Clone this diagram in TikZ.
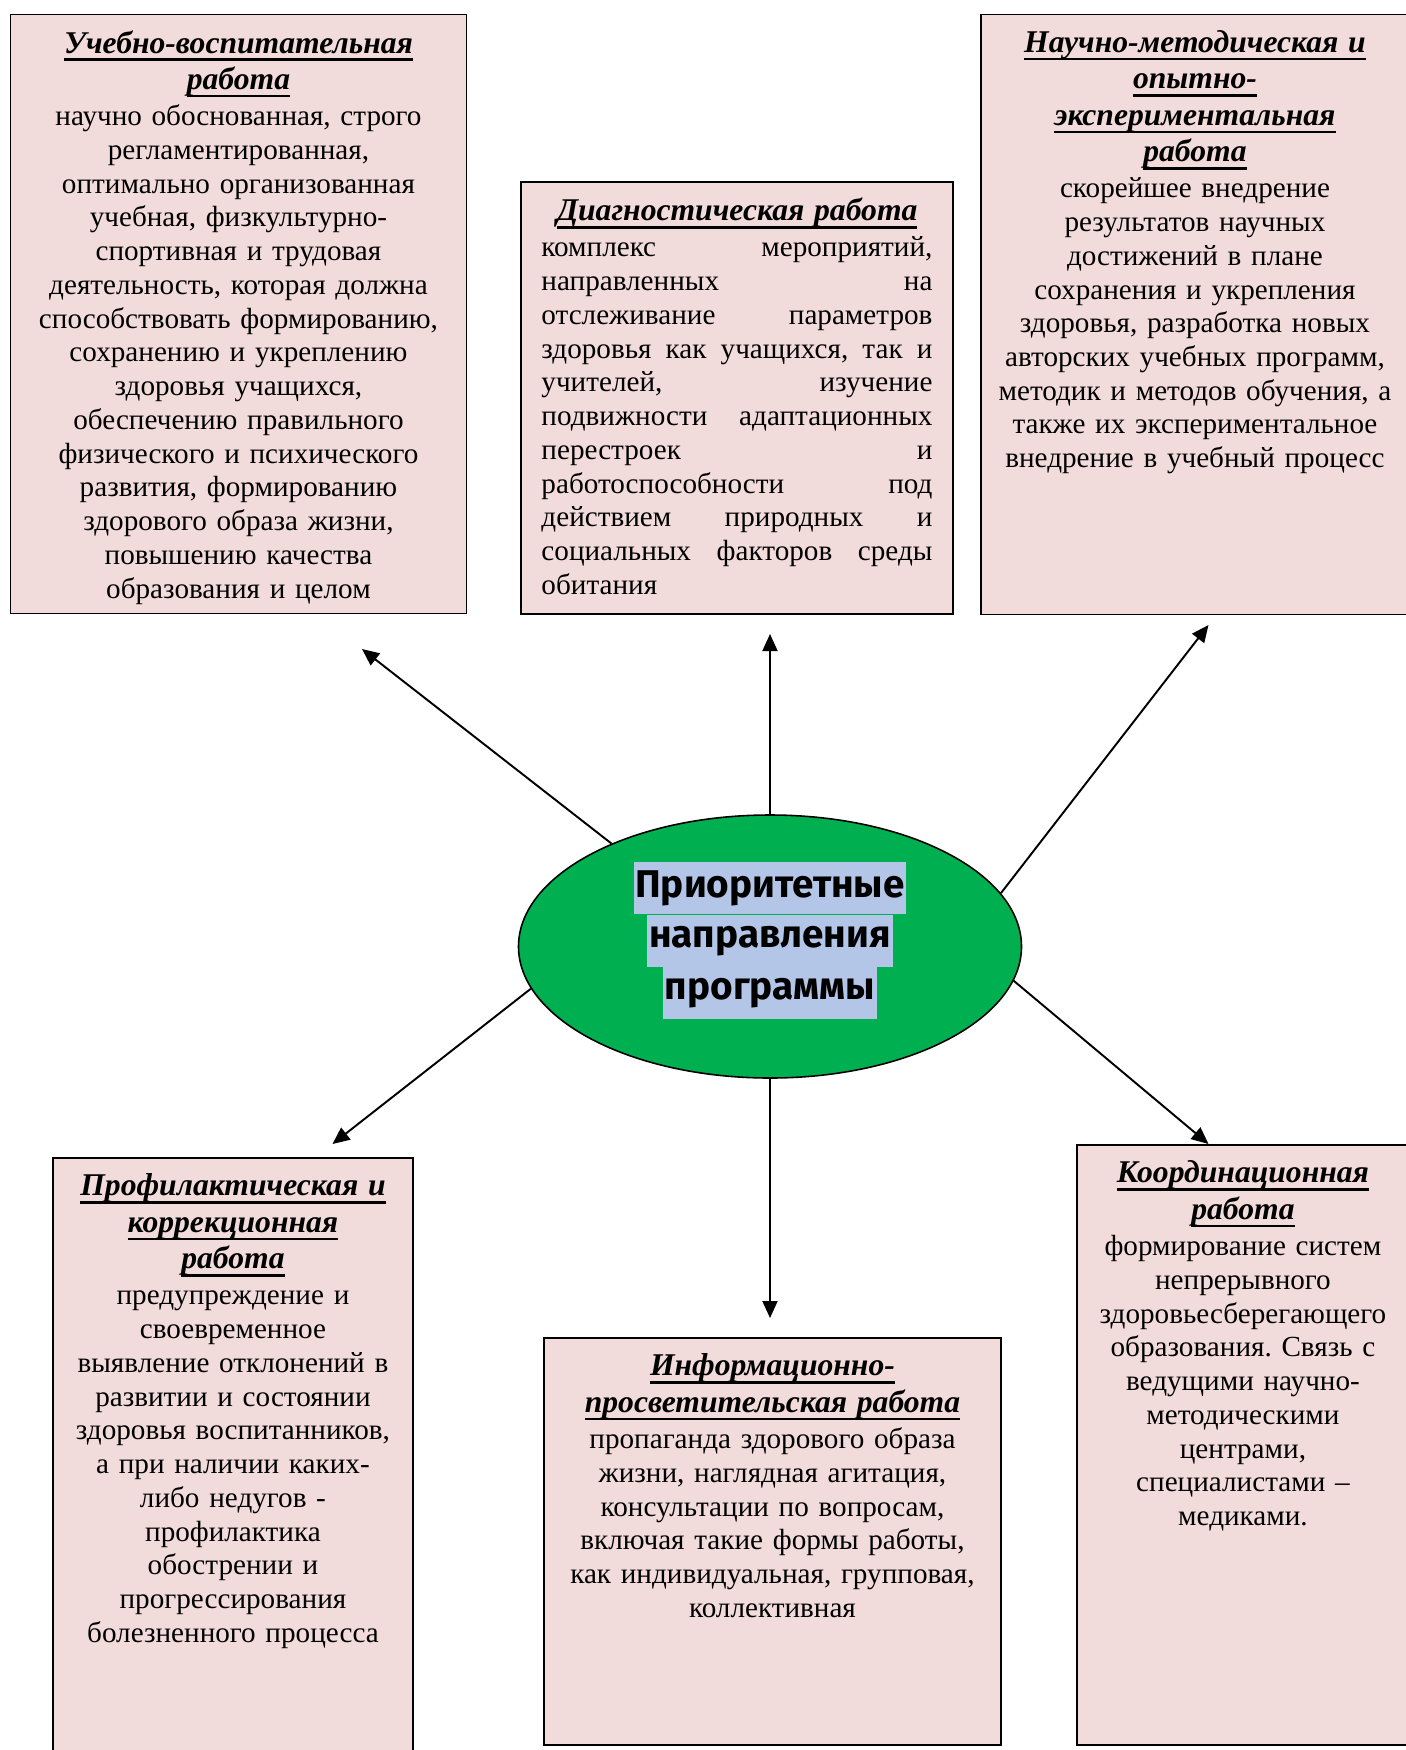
\documentclass[tikz,border=0pt]{standalone}
\usepackage{fontspec}
\setmainfont{Liberation Serif}
\newfontfamily\prfont{Fira Sans}
\usetikzlibrary{positioning,shapes.geometric,arrows.meta}
\definecolor{boxpink}{HTML}{F2DCDB}
\definecolor{ellgreen}{HTML}{00B050}
\definecolor{hlblue}{HTML}{B4C6E7}
\frenchspacing
\newcommand{\ttl}[1]{\leavevmode{\fontsize{18}{21}\selectfont\bfseries\itshape\setbox0=\hbox{#1}\rlap{\rule[-4.6pt]{\wd0}{1.5pt}}\box0}}

\begin{document}
\begin{tikzpicture}
	\tikzstyle{rect1} = [rectangle,draw=black,line width=1.1pt,fill=boxpink,anchor=north west,inner sep=0pt]
	\tikzstyle{txt1} = [align=center,inner sep=0pt,anchor=north,font=\fontsize{16.6}{19.2}\selectfont]
	\tikzstyle{oval1} = [ellipse,draw=black,line width=0.9pt,fill=ellgreen,minimum width=10.06cm,minimum height=5.26cm,inner sep=0pt]
	\tikzstyle{hl1} = [fill=hlblue,inner xsep=1pt,inner ysep=0pt,minimum height=1.04cm,font=\prfont\bfseries\fontsize{22}{26}\selectfont]
	\tikzstyle{arr1} = [-{Triangle[length=0.34cm,width=0.3cm]},line width=1.1pt]
	\useasboundingbox (0,0) rectangle (28.1,-35);
	\node (node0) [oval1] at (15.40,-18.93) {};
	\node (line1) [hl1] at (15.40,-17.76) {Приоритетные};
	\node (line2) [hl1, below=0pt of line1] {направления};
	\node (line3) [hl1, below=0pt of line2] {программы};
	\node (node1) [rect1,minimum width=9.12cm,minimum height=11.98cm] at (0.19,-0.27) {};
	\node (node2) [rect1,minimum width=8.64cm,minimum height=8.64cm] at (10.40,-3.62) {};
	\node (node3) [rect1,minimum width=8.56cm,minimum height=12.0cm] at (19.60,-0.27) {};
	\node (node4) [rect1,minimum width=7.2cm,minimum height=12.2cm] at (1.04,-23.14) {};
	\node (node5) [rect1,minimum width=9.14cm,minimum height=8.14cm] at (10.86,-26.74) {};
	\node (node6) [rect1,minimum width=6.64cm,minimum height=12.0cm] at (21.52,-22.88) {};
	\node (text1) [txt1,text width=8.9cm,below=0.33cm of node1.north] {\ttl{Учебно-воспитательная}\\[1.5pt]
		\ttl{работа}\\[1.5pt]
		научно обоснованная, строго\\ регламентированная,\\ оптимально организованная\\
		учебная, физкультурно-\\ спортивная и трудовая\\ деятельность, которая должна\\
		способствовать формированию,\\ сохранению и укреплению\\ здоровья учащихся,\\
		обеспечению правильного\\ физического и психического\\ развития, формированию\\
		здорового образа жизни,\\ повышению качества\\ образования и целом};
	\node (text2) [txt1,align=left,text width=7.82cm,below=0.33cm of node2.north] {\makebox[7.82cm]{\ttl{Диагностическая работа}}\\[1.5pt]
		комплекс\hfill мероприятий,\\
		направленных\hfill на\\
		отслеживание\hfill параметров\\
		здоровья\hfill как\hfill учащихся,\hfill так\hfill и\\
		учителей,\hfill изучение\\
		подвижности\hfill адаптационных\\
		перестроек\hfill и\\
		работоспособности\hfill под\\
		действием\hfill природных\hfill и\\
		социальных\hfill факторов\hfill среды\\
		обитания};
	\node (text3) [txt1,text width=8.3cm,below=0.33cm of node3.north] {\ttl{Научно-методическая и}\\[1.5pt]
		\ttl{опытно-}\\[1.5pt] \ttl{экспериментальная}\\[1.5pt] \ttl{работа}\\[1.5pt]
		скорейшее внедрение\\ результатов научных\\ достижений в плане\\
		сохранения и укрепления\\ здоровья, разработка новых\\ авторских учебных программ,\\
		методик и методов обучения, а\\ также их экспериментальное\\ внедрение в учебный процесс};
	\node (text4) [txt1,text width=7.0cm,below=0.33cm of node4.north] {\ttl{Профилактическая и}\\[1.5pt]
		\ttl{коррекционная}\\[1.5pt] \ttl{работа}\\[1.5pt]
		предупреждение и\\ своевременное\\ выявление отклонений в\\ развитии и состоянии\\
		здоровья воспитанников,\\ а при наличии каких-\\ либо недугов -\\ профилактика\\
		обострении и\\ прогрессирования\\ болезненного процесса};
	\node (text5) [txt1,text width=8.9cm,below=0.33cm of node5.north] {\ttl{Информационно-}\\[1.5pt]
		\ttl{просветительская работа}\\[1.5pt]
		пропаганда здорового образа\\ жизни, наглядная агитация,\\ консультации по вопросам,\\
		включая такие формы работы,\\ как индивидуальная, групповая,\\ коллективная};
	\node (text6) [txt1,text width=6.4cm,below=0.33cm of node6.north] {\ttl{Координационная}\\[1.5pt]
		\ttl{работа}\\[1.5pt]
		формирование систем\\ непрерывного\\ здоровьесберегающего\\ образования. Связь с\\
		ведущими научно-\\ методическими\\ центрами,\\ специалистами –\\ медиками.};
	\coordinate (tip1) at (7.24,-12.98);
	\coordinate (tip2) at (15.40,-12.68);
	\coordinate (tip3) at (24.17,-12.50);
	\coordinate (tip4) at (6.65,-22.88);
	\coordinate (tip5) at (15.40,-26.36);
	\coordinate (tip6) at (24.17,-22.88);
	\draw[arr1] (node0.147) -- (tip1);
	\draw[arr1] (node0.north) -- (tip2);
	\draw[arr1] (node0.13) -- (tip3);
	\draw[arr1] (node0.190) -- (tip4);
	\draw[arr1] (node0.south) -- (tip5);
	\draw[arr1] (node0.352) -- (tip6);
\end{tikzpicture}
\end{document}
